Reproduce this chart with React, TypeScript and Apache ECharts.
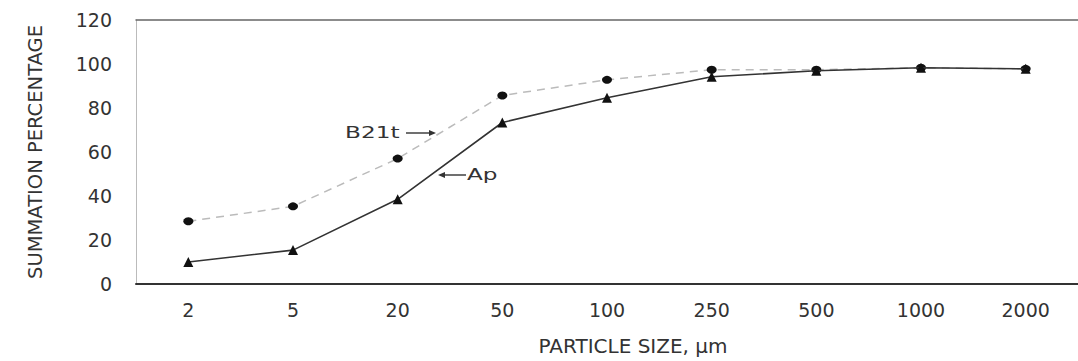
import React, { useEffect, useRef } from "react";
import * as echarts from "echarts";

const sizes = ["2", "5", "20", "50", "100", "250", "500", "1000", "2000"];
const apValues = [10.0, 15.4, 38.5, 73.4, 84.7, 94.2, 96.9, 98.3, 97.8];
const b21tValues = [28.5, 35.3, 57.0, 85.7, 92.8, 97.4, 97.4, 98.3, 97.8];
const yTicks = { min: 0, max: 120, interval: 20 };

const FONT = "DejaVu Sans";

export default function App() {
  const ref = useRef<HTMLDivElement>(null);
  useEffect(() => {
    if (!ref.current) return;
    const chart = echarts.init(ref.current, null, { renderer: "svg" });
    chart.setOption({
      animation: false,
      backgroundColor: "#ffffff",
      grid: { left: 136, top: 20, width: 953, height: 265, containLabel: false },
      xAxis: [
        {
          type: "category",
          data: sizes,
          boundaryGap: true,
          axisTick: { show: false },
          axisLine: { show: true, lineStyle: { color: "#333", width: 2 } },
          axisLabel: { color: "#333", fontSize: 19, fontFamily: FONT, margin: 16 },
          name: "PARTICLE SIZE, µm",
          nameLocation: "middle",
          nameGap: 52,
          nameTextStyle: { color: "#333", fontSize: 20, fontFamily: FONT, padding: [0, 0, 0, 52] },
          splitLine: { show: false },
        },
        {
          type: "category",
          data: sizes,
          position: "top",
          boundaryGap: true,
          axisTick: { show: false },
          axisLabel: { show: false },
          axisLine: { show: true, lineStyle: { color: "#666", width: 1.5 } },
          splitLine: { show: false },
        },
      ],
      yAxis: {
        type: "value",
        min: yTicks.min,
        max: yTicks.max,
        interval: yTicks.interval,
        splitLine: { show: false },
        axisTick: { show: false },
        axisLine: { show: true, lineStyle: { color: "#bbb", width: 1 } },
        axisLabel: { color: "#333", fontSize: 19, fontFamily: FONT, margin: 24 },
        name: "SUMMATION PERCENTAGE",
        nameLocation: "middle",
        nameRotate: 90,
        nameGap: 91,
        nameTextStyle: { color: "#333", fontSize: 19.5, fontFamily: FONT },
      },
      series: [
        {
          name: "B21t",
          type: "line",
          data: b21tValues,
          symbol: "circle",
          symbolSize: [10, 8],
          itemStyle: { color: "#111" },
          lineStyle: { color: "#bbb", width: 1.5, type: [8, 6] },
          z: 3,
        },
        {
          name: "Ap",
          type: "line",
          data: apValues,
          symbol: "triangle",
          symbolSize: 10,
          itemStyle: { color: "#111" },
          lineStyle: { color: "#333", width: 1.6 },
          z: 4,
        },
      ],
      graphic: [
        {
          type: "text",
          x: 345,
          y: 133,
          scaleX: 1.45,
          style: { text: "B21t", fill: "#333", font: `16px "${FONT}"`, verticalAlign: "middle" },
        },
        { type: "line", shape: { x1: 406, y1: 133, x2: 432, y2: 133 }, style: { stroke: "#333", lineWidth: 1.4 } },
        { type: "polygon", shape: { points: [[436, 133], [429, 130], [429, 136]] }, style: { fill: "#333" } },
        { type: "line", shape: { x1: 443, y1: 175, x2: 466, y2: 175 }, style: { stroke: "#333", lineWidth: 1.4 } },
        { type: "polygon", shape: { points: [[438, 175], [445, 172], [445, 178]] }, style: { fill: "#333" } },
        {
          type: "text",
          x: 467,
          y: 175,
          scaleX: 1.45,
          style: { text: "Ap", fill: "#333", font: `16px "${FONT}"`, verticalAlign: "middle" },
        },
      ],
    });
    return () => chart.dispose();
  }, []);
  return (
    <div
      ref={ref}
      style={{ position: "fixed", left: 0, top: 0, width: 1078, height: 361, background: "#fff" }}
    />
  );
}
